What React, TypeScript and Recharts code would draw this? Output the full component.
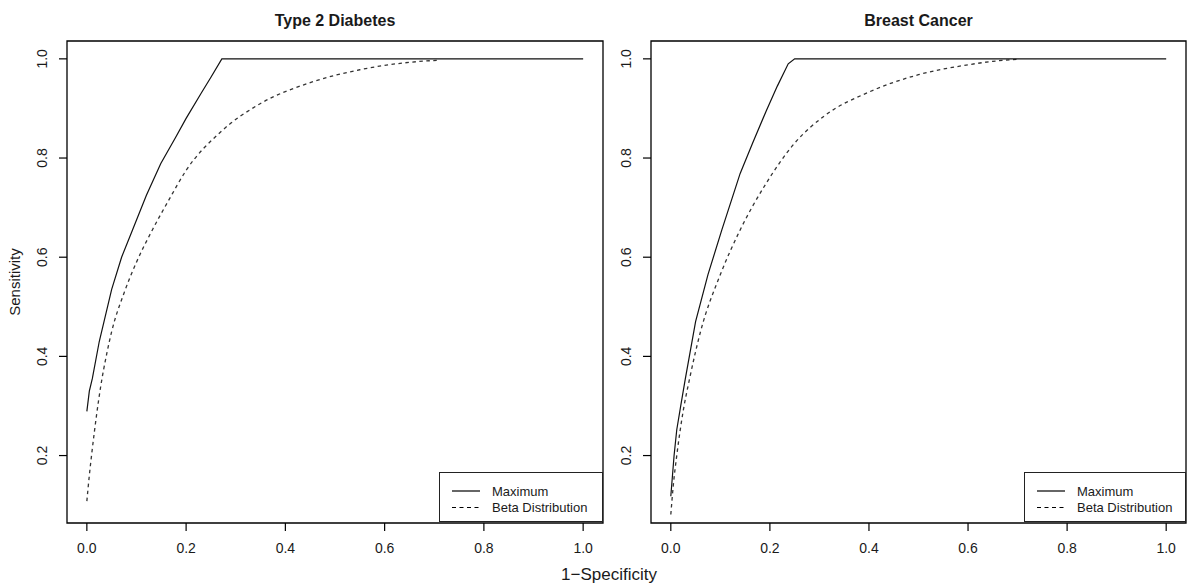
import { LineChart, Line, XAxis, YAxis, ReferenceArea, Legend } from 'recharts'

const X_TICKS = [0, 0.2, 0.4, 0.6, 0.8, 1.0]
const Y_TICKS = [0.2, 0.4, 0.6, 0.8, 1.0]
const PANEL_TITLES = ['Type 2 Diabetes', 'Breast Cancer']
const LEGEND_LABELS = ['Maximum', 'Beta Distribution']
const X_LABEL = '1\u2212Specificity'
const Y_LABEL = 'Sensitivity'

// Type 2 Diabetes
const T2D_MAX_FPR = [0, 0.005, 0.011, 0.025, 0.05, 0.07, 0.092, 0.12, 0.149, 0.179, 0.2, 0.23, 0.25, 0.272, 1.0]
const T2D_MAX_TPR = [0.289, 0.33, 0.355, 0.43, 0.535, 0.6, 0.655, 0.725, 0.789, 0.842, 0.88, 0.93, 0.963, 1.0, 1.0]
const T2D_BETA_FPR = [0, 0.005, 0.01, 0.02, 0.028, 0.04, 0.05, 0.075, 0.1, 0.132, 0.165, 0.2, 0.27, 0.35, 0.45, 0.55, 0.65, 0.705]
const T2D_BETA_TPR = [0.108, 0.16, 0.205, 0.285, 0.34, 0.405, 0.45, 0.528, 0.59, 0.655, 0.715, 0.775, 0.853, 0.91, 0.952, 0.978, 0.993, 0.997]

// Breast Cancer
const BC_MAX_FPR = [0, 0.0066, 0.012, 0.02, 0.029, 0.05, 0.075, 0.103, 0.14, 0.165, 0.193, 0.215, 0.237, 0.25, 1.0]
const BC_MAX_TPR = [0.118, 0.2, 0.252, 0.3, 0.353, 0.47, 0.565, 0.655, 0.769, 0.83, 0.896, 0.945, 0.99, 1.0, 1.0]
const BC_BETA_FPR = [0, 0.005, 0.012, 0.025, 0.0375, 0.06, 0.1, 0.14, 0.19, 0.25, 0.31, 0.4, 0.5, 0.6, 0.65, 0.698]
const BC_BETA_TPR = [0.081, 0.14, 0.2, 0.29, 0.353, 0.45, 0.565, 0.655, 0.745, 0.83, 0.885, 0.933, 0.968, 0.988, 0.995, 0.999]

const FONT = '"Liberation Sans", Arial, Helvetica, sans-serif'
const TEXT = '#1a1a1a'
const X_DOMAIN = [-0.04, 1.04]
const Y_DOMAIN = [0.064, 1.036]

const zip = (xs: number[], ys: number[]) => xs.map((x, i) => ({ x, y: ys[i] }))

const XTick = ({ x, y, payload }: any) => (
  <text x={x} y={y} dy={10} textAnchor="middle" fontSize={14} fill={TEXT} fontFamily={FONT}>
    {Number(payload.value).toFixed(1)}
  </text>
)

const YTick = ({ x, y, payload }: any) => (
  <text
    x={x}
    y={y}
    transform={`rotate(-90 ${x} ${y})`}
    textAnchor="middle"
    fontSize={14}
    fill={TEXT}
    fontFamily={FONT}
  >
    {Number(payload.value).toFixed(1)}
  </text>
)

const LegendBox = ({ width }: { width: number }) => (
  <div
    style={{
      width,
      height: 50,
      boxSizing: 'border-box',
      border: '1.2px solid #222',
      background: '#fff',
      position: 'relative',
      fontFamily: FONT,
      fontSize: 13,
      color: TEXT,
    }}
  >
    <svg width={width} height={50} style={{ position: 'absolute', left: 0, top: 0 }}>
      <line x1={12} x2={40} y1={18} y2={18} stroke="#000" strokeWidth={1.2} />
      <line x1={12} x2={40} y1={34.5} y2={34.5} stroke="#000" strokeWidth={1.2} strokeDasharray="4 3.5" />
      <text x={52} y={23} fontSize={13} fill={TEXT} fontFamily={FONT}>{LEGEND_LABELS[0]}</text>
      <text x={52} y={39} fontSize={13} fill={TEXT} fontFamily={FONT}>{LEGEND_LABELS[1]}</text>
    </svg>
  </div>
)

type PanelProps = {
  left: number
  width: number
  margin: { top: number; right: number; bottom: number; left: number }
  maxData: { x: number; y: number }[]
  betaData: { x: number; y: number }[]
  legendLeft: number
  legendWidth: number
}

function Panel({ left, width, margin, maxData, betaData, legendLeft, legendWidth }: PanelProps) {
  return (
    <div style={{ position: 'absolute', left, top: 0 }}>
      <LineChart width={width} height={587} margin={margin}>
        <XAxis
          type="number"
          dataKey="x"
          domain={X_DOMAIN}
          ticks={X_TICKS}
          interval={0}
          allowDataOverflow
          axisLine={false}
          tickLine={{ stroke: '#000', strokeWidth: 1.2 }}
          tickSize={8}
          tickMargin={12}
          height={30}
          tick={<XTick />}
        />
        <YAxis
          type="number"
          dataKey="y"
          domain={Y_DOMAIN}
          ticks={Y_TICKS}
          interval={0}
          allowDataOverflow
          axisLine={false}
          tickLine={{ stroke: '#000', strokeWidth: 1.2 }}
          tickSize={8}
          tickMargin={12}
          width={30}
          tick={<YTick />}
        />
        <ReferenceArea
          x1={X_DOMAIN[0]}
          x2={X_DOMAIN[1]}
          y1={Y_DOMAIN[0]}
          y2={Y_DOMAIN[1]}
          fill="none"
          fillOpacity={0}
          stroke="#000"
          strokeWidth={1.3}
          ifOverflow="visible"
        />
        <Line
          data={betaData}
          dataKey="y"
          name={LEGEND_LABELS[1]}
          type="monotone"
          stroke="#333"
          strokeWidth={1.3}
          strokeDasharray="3.5 3.5"
          dot={false}
          isAnimationActive={false}
        />
        <Line
          data={maxData}
          dataKey="y"
          name={LEGEND_LABELS[0]}
          type="linear"
          stroke="#111"
          strokeWidth={1.2}
          dot={false}
          isAnimationActive={false}
        />
        <Legend
          layout="vertical"
          align="center"
          verticalAlign="middle"
          wrapperStyle={{ left: legendLeft, top: 472, width: legendWidth, height: 51 }}
          content={() => <LegendBox width={legendWidth} />}
        />
      </LineChart>
    </div>
  )
}

export default function App() {
  return (
    <div style={{ position: 'absolute', left: 0, top: 0, width: 1200, height: 587, background: '#fff' }}>
      <Panel
        left={0}
        width={610}
        margin={{ top: 41, right: 7, bottom: 34, left: 37 }}
        maxData={zip(T2D_MAX_FPR, T2D_MAX_TPR)}
        betaData={zip(T2D_BETA_FPR, T2D_BETA_TPR)}
        legendLeft={439}
        legendWidth={164}
      />
      <Panel
        left={600}
        width={600}
        margin={{ top: 41, right: 14, bottom: 34, left: 21 }}
        maxData={zip(BC_MAX_FPR, BC_MAX_TPR)}
        betaData={zip(BC_BETA_FPR, BC_BETA_TPR)}
        legendLeft={424}
        legendWidth={162}
      />
      <svg
        width={1200}
        height={587}
        style={{ position: 'absolute', left: 0, top: 0, pointerEvents: 'none' }}
        fontFamily={FONT}
      >
        <text x={335} y={26} textAnchor="middle" fontSize={16} fontWeight="bold" fill={TEXT}>
          {PANEL_TITLES[0]}
        </text>
        <text x={918.5} y={26} textAnchor="middle" fontSize={16} fontWeight="bold" fill={TEXT}>
          {PANEL_TITLES[1]}
        </text>
        <text x={609} y={580} textAnchor="middle" fontSize={17} fill={TEXT}>
          {X_LABEL}
        </text>
        <text x={20} y={282} transform="rotate(-90 20 282)" textAnchor="middle" fontSize={15} fill={TEXT}>
          {Y_LABEL}
        </text>
      </svg>
    </div>
  )
}
